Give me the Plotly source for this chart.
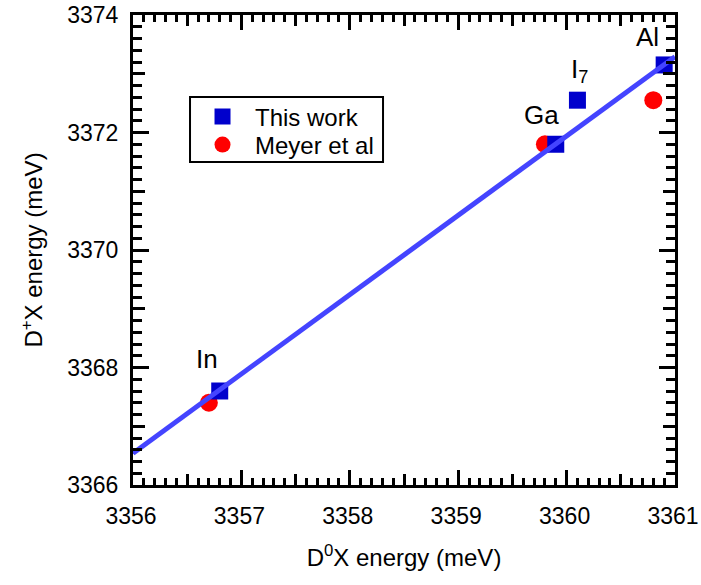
import plotly.graph_objects as go

# Data
work_names = ["In", "Ga", "I<sub>7</sub>", "Al"]
work_x = [3356.8, 3359.9, 3360.1, 3360.9]
work_y = [3367.6, 3371.8, 3372.55, 3373.15]

meyer_x = [3356.7, 3359.8, 3360.8]
meyer_y = [3367.4, 3371.8, 3372.55]

fit_x = [3356.0, 3361.0]
fit_y = [3366.54, 3373.29]

label_x = [3356.68, 3359.77, 3360.12, 3360.75]
label_y = [3368.15, 3372.3, 3373.05, 3373.62]

xrange_ = [3356, 3361]
yrange_ = [3366, 3374]

FONT = "Arial, Liberation Sans, sans-serif"
FS = 24
TFS = 23

fig = go.Figure()
fig.add_trace(go.Scatter(x=meyer_x, y=meyer_y, mode="markers", name="Meyer et al",
                         marker=dict(symbol="circle", size=18, color="#ff0000"),
                         legend="legend2"))
fig.add_trace(go.Scatter(x=work_x, y=work_y, mode="markers", name="This work",
                         marker=dict(symbol="square", size=17, color="#0000cc"),
                         legend="legend"))
fig.add_trace(go.Scatter(x=fit_x, y=fit_y, mode="lines", showlegend=False,
                         line=dict(color="#4444ff", width=5)))
fig.add_trace(go.Scatter(x=[xrange_[0]], y=[yrange_[0]], xaxis="x2", yaxis="y2",
                         mode="markers", marker=dict(opacity=0), showlegend=False,
                         hoverinfo="skip"))

for name, lx, ly in zip(work_names, label_x, label_y):
    fig.add_annotation(x=lx, y=ly, text=name, showarrow=False,
                       font=dict(family=FONT, size=26, color="black"))

# legend frame
fig.add_shape(type="rect", xref="paper", yref="paper",
              x0=0.1052, x1=0.4613, y0=0.6872, y1=0.8255,
              line=dict(color="black", width=2), fillcolor="rgba(0,0,0,0)")

axis_common = dict(showgrid=False, zeroline=False, ticks="inside",
                   tickcolor="black", tickwidth=2.5, linecolor="black",
                   linewidth=3, mirror="allticks", showline=True,
                   ticklabeloverflow="allow", automargin=False,
                   tickfont=dict(family=FONT, size=TFS, color="black"))

leg_common = dict(xanchor="left", yanchor="middle", borderwidth=0,
                  bgcolor="rgba(0,0,0,0)", font=dict(family=FONT, size=FS),
                  itemwidth=55, tracegroupgap=0)

fig.update_layout(
    width=701, height=585,
    margin=dict(l=133, r=26, t=15, b=100, autoexpand=False),
    plot_bgcolor="white", paper_bgcolor="white",
    font=dict(family=FONT, size=FS, color="black"),
    showlegend=True,
    legend=dict(x=0.1052, y=0.783, **leg_common),
    legend2=dict(x=0.1052, y=0.7234, **leg_common),
    xaxis=dict(range=xrange_, dtick=1, tick0=3356, ticklen=15,
               minor=dict(dtick=0.1, tick0=3356, ticklen=7, tickwidth=2.5,
                          tickcolor="black", ticks="inside"),
               ticklabelstandoff=8, ticklabelshift=-2,
               title=dict(text="D<sup>0</sup>X energy (meV)", standoff=22,
                          font=dict(family=FONT, size=FS, color="black")),
               **axis_common),
    yaxis=dict(range=yrange_, dtick=2, tick0=3366, ticklen=16,
               minor=dict(dtick=0.2, tick0=3366, ticklen=9, tickwidth=2.5,
                          tickcolor="black", ticks="inside"),
               ticklabelstandoff=7,
               title=dict(text="D<sup>+</sup>X energy (meV)", standoff=18,
                          font=dict(family=FONT, size=FS, color="black")),
               **axis_common),
    xaxis2=dict(range=xrange_, overlaying="x", anchor="y2", side="bottom",
                dtick=0.5, tick0=3356, ticklen=11, showticklabels=False,
                showgrid=False, zeroline=False, ticks="inside", tickcolor="black",
                tickwidth=2.5, showline=False, mirror="allticks", automargin=False),
    yaxis2=dict(range=yrange_, overlaying="y", anchor="x2", side="left",
                dtick=1, tick0=3366, ticklen=12, showticklabels=False,
                showgrid=False, zeroline=False, ticks="inside", tickcolor="black",
                tickwidth=2.5, showline=False, mirror="allticks", automargin=False),
)

fig.write_html(
    "out.html",
    config={"displayModeBar": False},
    post_script="document.body.style.margin='0';"
                "document.body.style.overflow='hidden';"
                "document.documentElement.style.overflow='hidden';",
)
